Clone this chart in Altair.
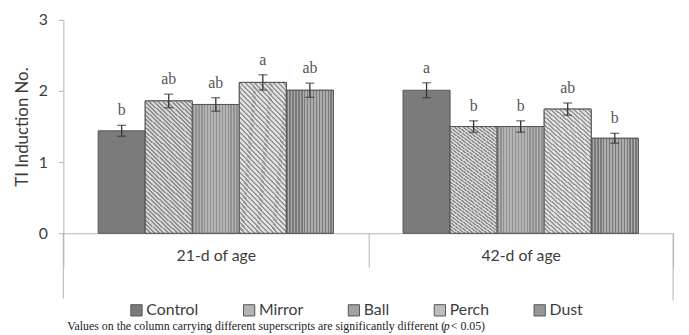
import altair as alt
import pandas as pd

ages = ["21-d of age", "42-d of age"]
treatments = ["Control", "Mirror", "Ball", "Perch", "Dust"]
means_21 = [1.44, 1.86, 1.81, 2.12, 2.01]
errs_21 = [0.077, 0.095, 0.095, 0.107, 0.10]
letters_21 = ["b", "ab", "ab", "a", "ab"]
means_42 = [2.01, 1.50, 1.50, 1.745, 1.335]
errs_42 = [0.105, 0.08, 0.08, 0.086, 0.07]
letters_42 = ["a", "b", "b", "ab", "b"]
y_ticks = [0, 1, 2, 3]
y_title = "TI Induction No."
footnote_main = "Values on the column carrying different superscripts are significantly different ("
footnote_p = "p"
footnote_end = "< 0.05)"

rows = []
for age, means, errs, lets in zip(ages, [means_21, means_42], [errs_21, errs_42], [letters_21, letters_42]):
    for t, m, e, l in zip(treatments, means, errs, lets):
        rows.append(dict(age=age, treatment=t, mean=m, lo=m - e, hi=m + e, letter=l))
df = pd.DataFrame(rows)

W, H = 617, 216
AXC = "#b3b3b3"
TXT = "#3c3c3c"
base_colors = ["#7b7b7b", "#b4b4b4", "#a2a2a2", "#bdbdbd", "#969696"]


def stripes(dark, light, n, frac, x1, y1, x2, y2):
    stops = []
    for i in range(n):
        a = i / n
        b = (i + frac) / n
        c = (i + 1) / n
        stops += [
            {"offset": a, "color": dark},
            {"offset": b, "color": dark},
            {"offset": b, "color": light},
            {"offset": c, "color": light},
        ]
    return {"gradient": "linear", "x1": x1, "y1": y1, "x2": x2, "y2": y2, "stops": stops}


fills = {
    "Mirror": stripes("#8e8e8e", "#d6d6d6", 42, 0.45, 0, 1, 0.4, -0.2),
    "Perch": stripes("#989898", "#e0e0e0", 40, 0.45, 0, 1, 0.4, -0.2),
    "Dust": stripes("#7a7a7a", "#acacac", 16, 0.5, 0, 0, 1, 0),
    "Ball": stripes("#919191", "#b4b4b4", 16, 0.5, 0, 0, 1, 0),
}

x_enc = alt.X(
    "age:N", sort=ages, title=None,
    scale=alt.Scale(domain=ages, paddingInner=0, paddingOuter=0),
    axis=alt.Axis(labelAngle=0, labelFont="Lato", labelFontSize=16, labelColor=TXT,
                  domainColor=AXC, tickColor=AXC, tickBand="extent", tickSize=34,
                  labelPadding=-19),
)
xo_enc = alt.XOffset("treatment:N", sort=treatments,
                     scale=alt.Scale(domain=treatments, paddingInner=0, paddingOuter=0.74))
y_scale = alt.Scale(domain=[0, 3])

base = alt.Chart(df)

bars = base.mark_bar(stroke="#555555", strokeWidth=1).encode(
    x=x_enc, xOffset=xo_enc,
    y=alt.Y("mean:Q", scale=y_scale, title=y_title,
            axis=alt.Axis(values=y_ticks, format="d", grid=False, domainColor=AXC, tickColor=AXC,
                          tickSize=5, labelFont="Lato", labelFontSize=16, labelColor=TXT,
                          labelPadding=11, titleFont="Lato", titleFontSize=17,
                          titleFontWeight="normal", titleColor=TXT, titlePadding=7)),
    color=alt.Color("treatment:N", sort=treatments,
                    scale=alt.Scale(domain=treatments, range=base_colors),
                    legend=alt.Legend(orient="none", legendX=66, legendY=286, direction="horizontal",
                                      title=None, symbolType="square", symbolSize=130,
                                      symbolStrokeColor="#555555", symbolStrokeWidth=1,
                                      labelFont="Lato", labelFontSize=16, labelColor=TXT,
                                      columnPadding=43, labelOffset=2)),
)

overlays = []
for t in treatments:
    if t in fills:
        overlays.append(
            base.transform_filter(alt.datum.treatment == t)
            .mark_bar(fill=fills[t], stroke="#555555", strokeWidth=1)
            .encode(x=x_enc, xOffset=xo_enc, y=alt.Y("mean:Q", scale=y_scale))
        )

err_rule = base.mark_rule(color="#333333", strokeWidth=1.3).encode(
    x=x_enc, xOffset=xo_enc, y=alt.Y("lo:Q", scale=y_scale), y2="hi:Q")
cap_lo = base.mark_tick(color="#333333", thickness=1.3, size=9).encode(
    x=x_enc, xOffset=xo_enc, y=alt.Y("lo:Q", scale=y_scale))
cap_hi = base.mark_tick(color="#333333", thickness=1.3, size=9).encode(
    x=x_enc, xOffset=xo_enc, y=alt.Y("hi:Q", scale=y_scale))

letters = base.mark_text(font="Liberation Serif", fontSize=16, color="#555555",
                         baseline="alphabetic", dy=-10).encode(
    x=x_enc, xOffset=xo_enc, y=alt.Y("hi:Q", scale=y_scale), text="letter:N")

one = alt.Chart(pd.DataFrame({"k": [0]}))
ext_left = one.mark_rule(color=AXC).encode(x=alt.value(0), y=alt.value(H), y2=alt.value(H + 66))
ext_right = one.mark_rule(color=AXC).encode(x=alt.value(W), y=alt.value(H), y2=alt.value(H + 68))

fn_y = 314
fn1 = one.mark_text(text=footnote_main, font="Liberation Serif", fontSize=12, color="#222222",
                    align="left", baseline="alphabetic").encode(x=alt.value(4), y=alt.value(fn_y))
fn2 = one.mark_text(text=footnote_p, font="Liberation Serif", fontSize=12, fontStyle="italic",
                    color="#222222", align="left", baseline="alphabetic").encode(
    x=alt.value(385), y=alt.value(fn_y))
fn3 = one.mark_text(text=footnote_end, font="Liberation Serif", fontSize=12, color="#222222",
                    align="left", baseline="alphabetic").encode(x=alt.value(392), y=alt.value(fn_y))

chart = alt.layer(bars, *overlays, err_rule, cap_lo, cap_hi, letters,
                  ext_left, ext_right, fn1, fn2, fn3).properties(
    width=W, height=H,
    autosize=alt.AutoSizeParams(type="none"),
    padding={"left": 56, "top": 10, "right": 8, "bottom": 101},
).configure_view(stroke=None)

chart.save("out.html", embed_options={"renderer": "svg", "actions": False})
